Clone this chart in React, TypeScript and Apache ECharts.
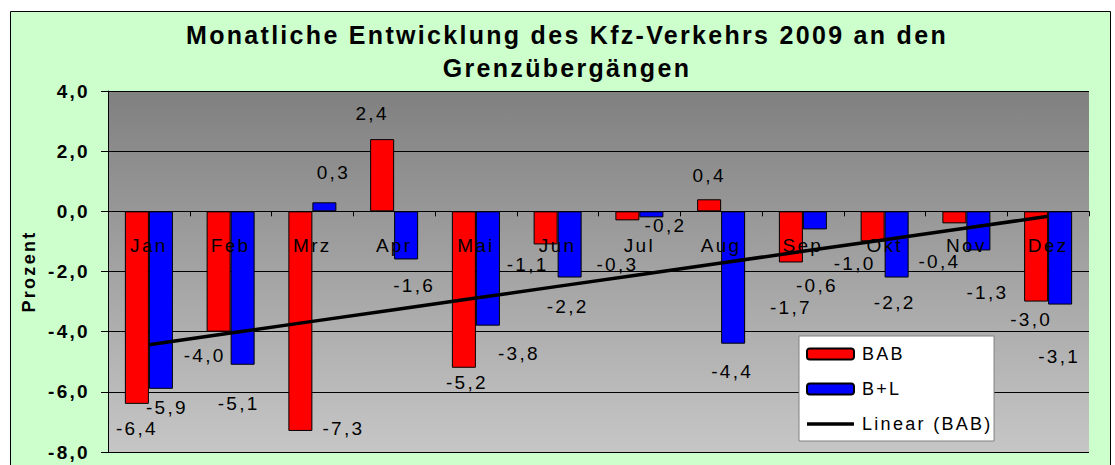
import React, { useEffect, useRef } from "react";
import * as echarts from "echarts";

const months = ["Jan", "Feb", "Mrz", "Apr", "Mai", "Jun", "Jul", "Aug", "Sep", "Okt", "Nov", "Dez"];
const bab = [-6.4, -4.0, -7.3, 2.4, -5.2, -1.1, -0.3, 0.4, -1.7, -1.0, -0.4, -3.0];
const bl = [-5.9, -5.1, 0.3, -1.6, -3.8, -2.2, -0.2, -4.4, -0.6, -2.2, -1.3, -3.1];
const yMin = -8;
const yMax = 4;
const yStep = 2;

const titleLines = ["Monatliche Entwicklung des Kfz-Verkehrs 2009 an den", "Grenzübergängen"];

// label nudges (px) relative to the default label spot, mimicking the original placement
const babLabelNudge = [
  [0, 15], [-14, 14], [43, -12], [-10, -16], [3, 5], [-18, 11],
  [-10, 35], [0, -14], [0, 36], [-18, 13], [-15, 29], [-5, 8],
];
const blLabelNudge = [
  [6, 9], [-4, 29], [9, -20], [8, 17], [31, 18], [-2, 19],
  [14, -1], [-1, 18], [2, 47], [-2, 15], [9, 33], [-1, 42],
];

const FONT = "'Liberation Sans', Arial, sans-serif";
const fmt = (v: number) => v.toFixed(1).replace(".", ",");

// Linear trend line (least squares) of the BAB series, as Excel does
function linearTrend(values: number[]) {
  const n = values.length;
  const xs = values.map((_, i) => i + 1);
  const mx = xs.reduce((a, b) => a + b, 0) / n;
  const my = values.reduce((a, b) => a + b, 0) / n;
  let sxy = 0;
  let sxx = 0;
  xs.forEach((x, i) => {
    sxy += (x - mx) * (values[i] - my);
    sxx += (x - mx) * (x - mx);
  });
  const slope = sxy / sxx;
  return xs.map((x) => +(my + slope * (x - mx)).toFixed(4));
}

const barItems = (vals: number[], nudge: number[][]) =>
  vals.map((v, i) => ({
    value: v,
    label: { position: v < 0 ? "bottom" : "top", offset: nudge[i] },
  }));

const GRID_TOP = 91;
const GRID_BOTTOM_PX = 452;

export default function App() {
  const ref = useRef<HTMLDivElement>(null);

  useEffect(() => {
    if (!ref.current) return;
    const chart = echarts.init(ref.current, undefined, { renderer: "svg" });
    const labelStyle = {
      show: true,
      formatter: (p: any) => fmt(p.value),
      color: "#000",
      fontFamily: FONT,
      fontSize: 19,
      distance: 0,
    };
    // offset that puts the category axis on the zero line of the value axis
    const zeroOffset = -((GRID_BOTTOM_PX - GRID_TOP) * (0 - yMin)) / (yMax - yMin);
    chart.setOption({
      animation: false,
      backgroundColor: "#ffffff",
      graphic: [
        {
          type: "rect",
          z: -10,
          silent: true,
          shape: { x: 10.5, y: 11.5, width: 1100, height: 470 },
          style: { fill: "#CCFFCC", stroke: "#000", lineWidth: 1 },
        },
        ...titleLines.map((t, i) => ({
          type: "text",
          z: 10,
          x: 567,
          y: 35 + i * 33,
          style: {
            text: t,
            align: "center",
            verticalAlign: "middle",
            font: `bold 25px ${FONT}`,
            fill: "#000",
          },
        })),
      ],
      grid: {
        left: 108,
        right: 26,
        top: GRID_TOP,
        bottom: 465 - GRID_BOTTOM_PX,
        containLabel: false,
        outerBoundsMode: "none",
        show: true,
        borderWidth: 0,
        backgroundColor: new echarts.graphic.LinearGradient(0, 0, 0, 1, [
          { offset: 0, color: "#808080" },
          { offset: 1, color: "#C6C6C6" },
        ]),
      },
      legend: {
        orient: "vertical",
        left: 799,
        top: 336,
        itemWidth: 47,
        itemHeight: 11,
        itemGap: 17,
        backgroundColor: "#ffffff",
        borderColor: "#808080",
        borderWidth: 1,
        padding: [9, 29, 8, 7],
        textStyle: { fontFamily: FONT, fontSize: 18, color: "#000", padding: [0, 0, 0, 3] },
        data: [
          { name: "BAB" },
          { name: "B+L" },
          { name: "Linear (BAB)", icon: "path://M0,0h47v3.5h-47z", itemStyle: { color: "#000", borderWidth: 0 } },
        ],
      },
      xAxis: {
        type: "category",
        data: months,
        z: 5,
        position: "bottom",
        offset: zeroOffset,
        axisLine: { onZero: false, lineStyle: { color: "#000", width: 1 } },
        axisTick: { show: true, length: 5, lineStyle: { color: "#000" } },
        axisLabel: { color: "#000", fontFamily: FONT, fontSize: 19, margin: 25 },
        splitLine: { show: false },
      },
      yAxis: {
        type: "value",
        min: yMin,
        max: yMax,
        interval: yStep,
        name: "Prozent",
        nameLocation: "middle",
        nameGap: 70,
        nameRotate: 90,
        nameTextStyle: { fontFamily: FONT, fontSize: 18, fontWeight: "bold", color: "#000" },
        axisLine: { show: true, lineStyle: { color: "#000", width: 1 } },
        axisTick: { show: true, length: 7, lineStyle: { color: "#000" } },
        axisLabel: {
          color: "#000",
          fontFamily: FONT,
          fontSize: 19,
          fontWeight: "bold",
          margin: 18,
          formatter: (v: number) => fmt(v),
        },
        splitLine: { show: true, lineStyle: { color: "#000", width: 1 } },
      },
      series: [
        {
          name: "BAB",
          type: "bar",
          data: barItems(bab, babLabelNudge),
          barWidth: 24,
          barGap: "0%",
          itemStyle: { color: "#FF0000", borderColor: "#000", borderWidth: 1 },
          label: labelStyle,
          z: 3,
        },
        {
          name: "B+L",
          type: "bar",
          data: barItems(bl, blLabelNudge),
          barWidth: 24,
          barGap: "0%",
          itemStyle: { color: "#0000FF", borderColor: "#000", borderWidth: 1 },
          label: labelStyle,
          z: 3,
        },
        {
          name: "Linear (BAB)",
          type: "line",
          data: linearTrend(bab),
          symbol: "none",
          lineStyle: { color: "#000", width: 3.5 },
          itemStyle: { color: "#000" },
          z: 8,
        },
      ],
    });
    return () => chart.dispose();
  }, []);

  return (
    <div
      ref={ref}
      style={{ position: "absolute", left: 0, top: 0, width: 1115, height: 465, letterSpacing: "2.3px" }}
    />
  );
}
